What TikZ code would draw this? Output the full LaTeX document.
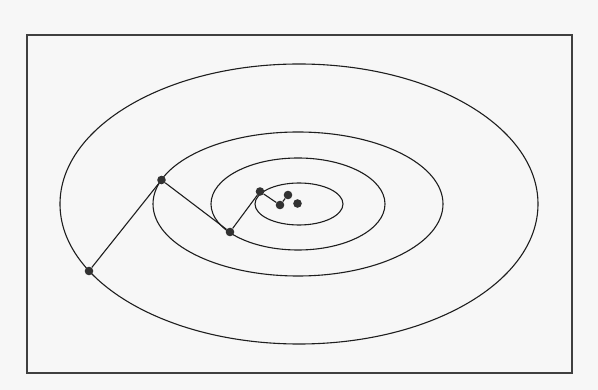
\documentclass[tikz,border=0pt]{standalone}
\definecolor{paper}{RGB}{247,247,247}
\definecolor{ink}{RGB}{30,30,30}
\definecolor{dotink}{RGB}{50,50,50}
\begin{document}
\begin{tikzpicture}[x=1pt,y=-1pt,
  dot/.style={circle,fill=dotink,inner sep=0pt,minimum size=8.6pt},
  curve/.style={draw=ink,line width=1.1pt},
  frame/.style={draw=ink!85,line width=1.4pt}]
\useasboundingbox[fill=paper] (0,0) rectangle (598,390);
\draw[frame] (27,35) rectangle (572,373);
% contour ellipses
\draw[curve] (299,204) ellipse [x radius=239, y radius=140];
\draw[curve] (298,204) ellipse [x radius=145, y radius=72];
\draw[curve] (298,204) ellipse [x radius=87, y radius=46];
\draw[curve] (299,204) ellipse [x radius=44, y radius=21];
% descent points
\node[dot] (p1) at (89,271) {};
\node[dot] (p2) at (161.5,180) {};
\node[dot] (p3) at (230,232) {};
\node[dot] (p4) at (260,191.5) {};
\node[dot] (p5) at (280,205) {};
\node[dot] (p6) at (288,195) {};
\node[dot] (p7) at (297.5,203.5) {};
\draw[curve] (p1) -- (p2) -- (p3) -- (p4) -- (p5) -- (p6);
\end{tikzpicture}
\end{document}
